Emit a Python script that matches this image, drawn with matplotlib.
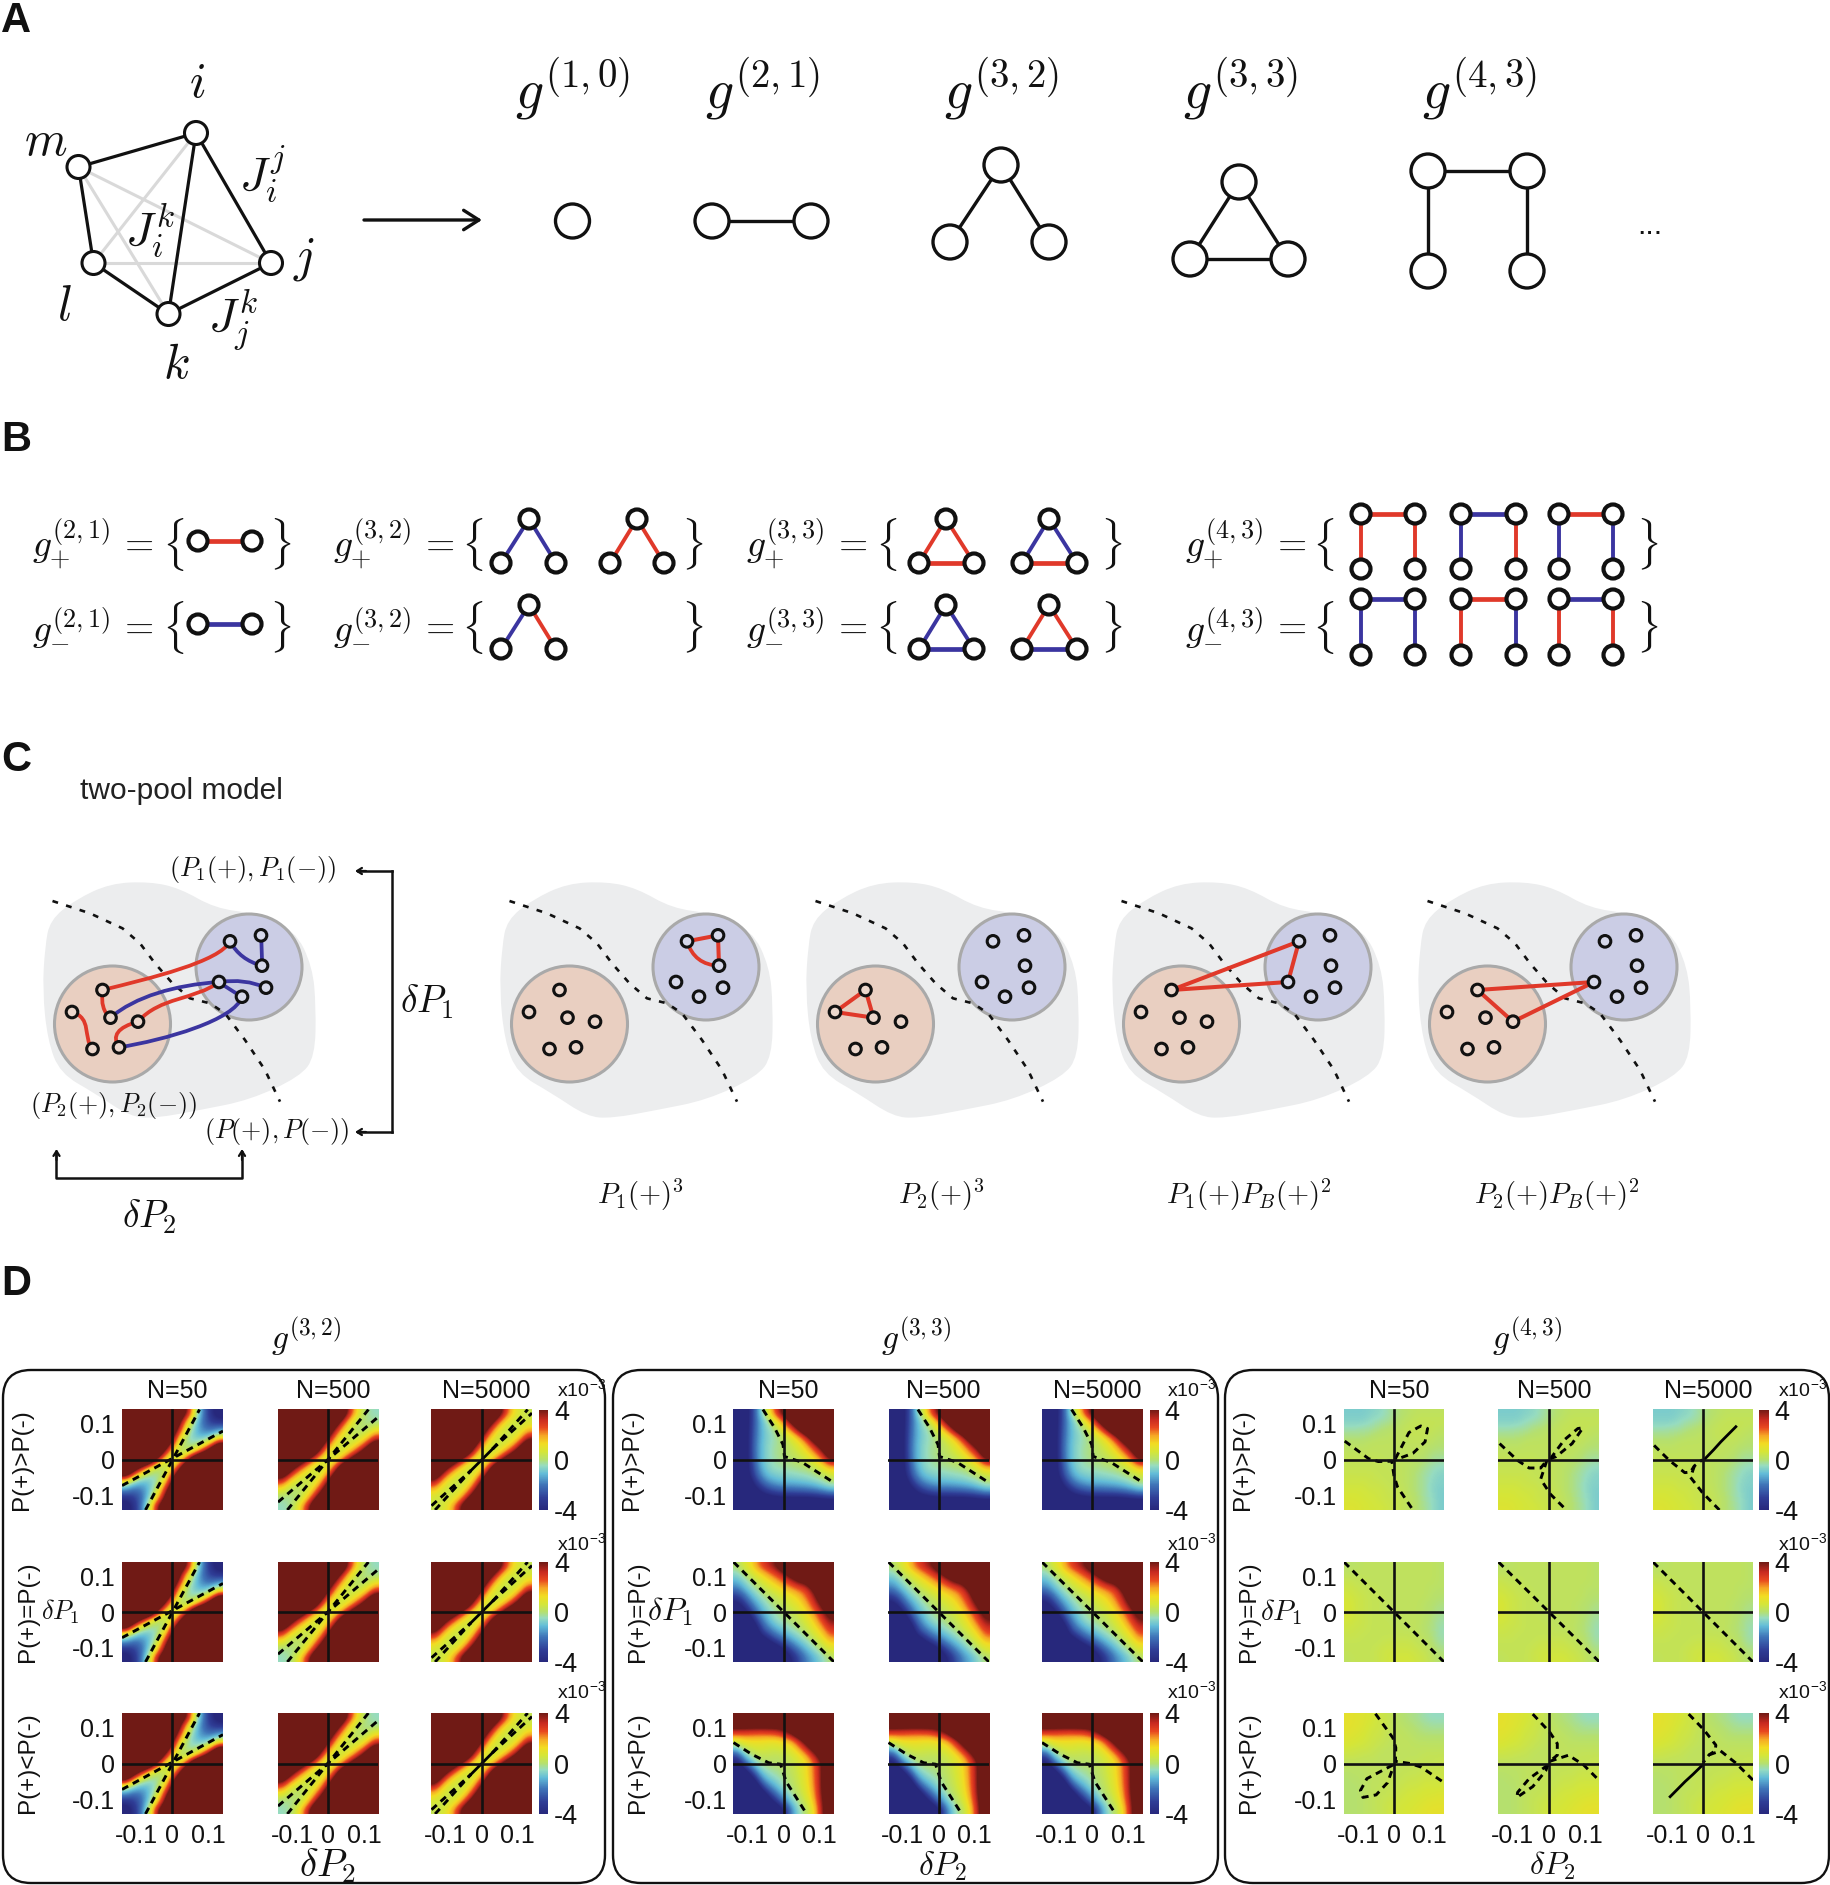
import matplotlib
matplotlib.use("Agg")
import matplotlib.pyplot as plt
from matplotlib.colors import LinearSegmentedColormap
from matplotlib.patches import Circle, Ellipse, FancyBboxPatch, PathPatch
from matplotlib.path import Path

plt.rcParams['font.family'] = ['Liberation Sans', 'DejaVu Sans']
plt.rcParams['mathtext.fontset'] = 'cm'

W, H = 1831, 1885
RED = '#e0392a'
BLUE = '#3b35a0'
BLACK = '#111111'

# ---------- field grids (rows: dP1 = +top to -bottom, cols: dP2 = -left to +right, x10^-3) ----------
g32_n50 = [
 [9,9,9,9,9,9,9,6,3.5,0.4,-2,-3.6,-4.8],
 [9,9,9,9,9,9,8,4,1.5,-0.6,-2.2,-3.2,-3.6],
 [9,9,9,9,9,9,6,3,0.4,-1,-2,-2.3,-1.8],
 [9,9,9,9,9,8,4.5,1.5,-0.3,-1,-1.2,-0.6,0.5],
 [9,9,9,9,9,6,3,0.3,-0.4,-0.3,0.5,2,4.5],
 [9,9,9,9,7,3.5,1,0,0.3,1.5,3.5,6,9],
 [9,9,9,7,3.5,1,0.4,1,3.5,7,9,9,9],
 [9,6,3.5,1.5,0.3,0,1,3.5,7,9,9,9,9],
 [4.5,2,0.5,-0.3,-0.4,0.3,3,6,9,9,9,9,9],
 [0.5,-0.6,-1.2,-1,-0.3,1.5,4.5,8,9,9,9,9,9],
 [-1.8,-2.3,-2,-1,0.4,3,6,9,9,9,9,9,9],
 [-3.6,-3.2,-2.2,-0.6,1.5,4,8,9,9,9,9,9,9],
 [-4.8,-3.6,-2,0.4,3.5,6,9,9,9,9,9,9,9],
]
g32_n500 = [
 [9,9,9,9,9,9,9,9,5,2.6,0.8,-0.3,-0.5],
 [9,9,9,9,9,9,9,5.5,3,1.1,0,-0.2,-0.3],
 [9,9,9,9,9,9,6,3.5,1.5,0.3,0,0,0.8],
 [9,9,9,9,9,7,4.4,1.9,0.6,0.2,0.3,1.1,2.6],
 [9,9,9,9,8,5.2,2.5,0.8,0.3,0.6,1.5,3,5],
 [9,9,9,8,6,3,1,0.3,0.8,1.9,3.5,5.5,9],
 [9,9,6.5,4.6,2.5,1,0.4,1,2.5,4.6,6.5,9,9],
 [9,5.5,3.5,1.9,0.8,0.3,1,3,6,8,9,9,9],
 [5,3,1.5,0.6,0.3,0.8,2.5,5.2,8,9,9,9,9],
 [2.6,1.1,0.3,0.2,0.6,1.9,4.4,7,9,9,9,9,9],
 [0.8,0,0,0.3,1.5,3.5,6,9,9,9,9,9,9],
 [-0.3,-0.2,0,1.1,3,5.5,9,9,9,9,9,9,9],
 [-0.5,-0.3,0.8,2.6,5,9,9,9,9,9,9,9,9],
]
g32_n5000 = [
 [9,9,9,9,9,9,9,9,5.5,3.2,1.4,0.6,0.3],
 [9,9,9,9,9,9,9,5.5,3.2,1.4,0.6,0.3,0.6],
 [9,9,9,9,9,9,6,3.5,1.5,0.5,0.3,0.6,1.4],
 [9,9,9,9,9,7,4.4,1.9,0.6,0.3,0.5,1.4,3.2],
 [9,9,9,9,8,5.2,2.5,0.8,0.3,0.6,1.5,3.2,5.5],
 [9,9,9,8,6,3,1,0.3,0.8,1.9,3.5,5.5,9],
 [9,9,6.5,4.6,2.5,1,0.4,1,2.5,4.6,6.5,9,9],
 [9,5.5,3.5,1.9,0.8,0.3,1,3,6,8,9,9,9],
 [5.5,3.2,1.5,0.6,0.3,0.8,2.5,5.2,8,9,9,9,9],
 [3.2,1.4,0.5,0.3,0.6,1.9,4.4,7,9,9,9,9,9],
 [1.4,0.6,0.3,0.5,1.5,3.5,6,9,9,9,9,9,9],
 [0.6,0.3,0.6,1.4,3.2,5.5,9,9,9,9,9,9,9],
 [0.3,0.6,1.4,3.2,5.5,9,9,9,9,9,9,9,9],
]
g33_pos = [
 [-7,-5,-3,-0.9,0.8,2.8,4.5,7,9,9,9,9,9],
 [-7,-5,-2.9,-1.3,-0.3,1,2.5,4.5,7,9,9,9,9],
 [-7,-5,-2.8,-1.3,-0.6,0,1.2,2.5,4.5,7,9,9,9],
 [-7,-5,-2.7,-1.3,-0.7,-0.3,0.2,1,2,3.5,6,9,9],
 [-7,-5,-2.6,-1.2,-0.6,-0.3,0,0.4,1,2,3.5,5.5,8],
 [-7,-5,-2.6,-1.2,-0.6,-0.2,0,0.2,0.6,1.2,2.2,3.5,6],
 [-7,-5,-2.7,-1.2,-0.6,-0.3,-0.1,0,0.2,0.5,1.2,2.2,4],
 [-7,-5,-2.9,-1.4,-0.7,-0.4,-0.3,-0.2,-0.1,0,0.3,1,1.8],
 [-7,-5.3,-3.2,-1.8,-1,-0.8,-0.7,-0.6,-0.5,-0.4,-0.2,0.1,0.5],
 [-8,-6,-4,-2.6,-1.8,-1.4,-1.2,-1.2,-1.1,-1,-0.8,-0.5,-0.1],
 [-9,-7,-5,-3.8,-3,-2.6,-2.4,-2.4,-2.3,-2.2,-2,-1.7,-1.3],
 [-9,-8,-6.5,-5.2,-4.6,-4.3,-4.1,-4.1,-4.1,-4.1,-4,-3.8,-3.6],
 [-9,-9,-9,-9,-8,-7,-6.5,-6.5,-6.5,-6.5,-6.5,-6,-6],
]
g33_eq = [
 [0,0.7,1.4,2.5,3.3,4,5.5,8,9,9,9,9,9],
 [-0.6,0,0.7,1.3,2,2.8,3.6,5,6,8,9,9,9],
 [-1.2,-0.6,0,0.6,1.1,1.7,2.4,3.2,4.2,4.5,7,9,9],
 [-2,-1.2,-0.5,0,0.5,0.9,1.4,1.9,2.4,3,4.4,7,9],
 [-3.2,-2.2,-1.1,-0.5,0,0.3,0.7,1.1,1.5,2.4,3.6,5.5,8],
 [-4.5,-3.2,-1.9,-1,-0.4,0,0.3,0.7,1.1,1.8,3,4.4,6],
 [-6,-4.5,-2.8,-1.5,-0.8,-0.3,0,0.3,0.7,1.3,2.2,3.5,5],
 [-8,-6.5,-4,-2.2,-1.2,-0.5,-0.2,0,0.3,0.8,1.6,2.8,4],
 [-9,-7.5,-5.5,-3,-1.8,-1.2,-0.7,-0.3,0,0.5,1.1,2,3.2],
 [-9,-9,-7,-3.8,-3,-2,-1.5,-0.9,-0.5,0,0.6,1.3,2.4],
 [-9,-9,-9,-6.5,-4.5,-3.5,-2.6,-1.8,-1.1,-0.6,0,0.7,1.4],
 [-9,-9,-9,-9,-7,-5.5,-4.2,-3,-2,-1.2,-0.6,0,0.7],
 [-9,-9,-9,-9,-9,-7.5,-5.5,-4,-2.8,-1.8,-1.2,-0.6,0],
]
g33_neg = [
 [7,7,7,7,7,7,7,7,7,8,9,9,9],
 [5,5,5,5,5,5,5,5,5.3,6,7,8,9],
 [3,2.9,2.8,2.7,2.8,2.9,3.6,4.5,6,8,9,9,9],
 [0.9,1.3,1.3,1.3,1.2,1.2,1.4,2,3.3,5,7,9,9],
 [-0.8,0.3,0.6,0.7,0.6,0.6,0.7,1,2,3.4,5,6.5,8],
 [-2.8,-1,0,0.3,0.3,0.2,0.3,0.5,1,1.9,3.4,5,7],
 [-4.5,-2.5,-1.2,-0.2,0,0,0.1,0.3,0.7,1.2,2.4,4.1,6.5],
 [-7,-4.5,-2.5,-1,-0.4,-0.2,0,0.2,0.6,1.2,2.4,4.1,6.5],
 [-9,-7,-4.5,-2,-1,-0.6,-0.2,0.1,0.5,1.1,2.3,4.1,6.5],
 [-9,-9,-7,-3.5,-2,-1.2,-0.5,0,0.4,1,2.2,4.1,6.5],
 [-9,-9,-9,-6,-3.5,-2.2,-1.2,-0.3,0.2,0.8,2,4,6.5],
 [-9,-9,-9,-9,-5.5,-3.5,-2.2,-1,-0.1,0.5,1.7,3.8,6],
 [-9,-9,-9,-9,-8,-6,-4,-1.8,-0.5,0.1,1.3,3.6,6],
]
g43_pos = [
 [-0.8,-0.8,-0.8,-0.7,-0.6,-0.4,-0.2,0,0.1,0.2,0.2,0.2,0.2],
 [-0.7,-0.7,-0.7,-0.5,-0.4,-0.3,-0.1,0.1,0.2,0.3,0.3,0.3,0.3],
 [-0.4,-0.4,-0.3,-0.3,-0.1,0,0.1,0.2,0.3,0.3,0.3,0.3,0.2],
 [-0.1,-0.1,-0.1,0,0.1,0.1,0.2,0.2,0.3,0.3,0.3,0.2,0.1],
 [0.1,0.1,0.1,0.2,0.2,0.2,0.2,0.2,0.2,0.2,0.2,0.1,0],
 [0.2,0.2,0.2,0.2,0.2,0.2,0.2,0.2,0.2,0.2,0.1,-0.1,-0.1],
 [0.3,0.3,0.3,0.3,0.3,0.2,0.2,0.2,0.2,0.1,0,-0.2,-0.3],
 [0.3,0.3,0.3,0.3,0.3,0.3,0.2,0.2,0.1,0,-0.2,-0.4,-0.5],
 [0.4,0.4,0.4,0.4,0.3,0.3,0.3,0.2,0.1,-0.1,-0.3,-0.5,-0.7],
 [0.5,0.5,0.5,0.4,0.4,0.3,0.3,0.2,0.1,-0.1,-0.3,-0.6,-0.7],
 [0.6,0.6,0.6,0.5,0.5,0.4,0.3,0.3,0.1,-0.1,-0.3,-0.6,-0.8],
 [0.7,0.7,0.6,0.6,0.5,0.4,0.4,0.3,0.2,0,-0.3,-0.5,-0.8],
 [0.8,0.8,0.7,0.6,0.6,0.5,0.4,0.3,0.2,0,-0.2,-0.5,-0.8],
]
g43_eq = [
 [0.1,0.1,0.2,0.2,0.2,0.2,0.2,0.2,0.2,0.2,0.2,0.2,0.1],
 [0.2,0.2,0.2,0.2,0.2,0.2,0.2,0.2,0.2,0.2,0.2,0.2,0.1],
 [0.4,0.3,0.3,0.2,0.2,0.2,0.2,0.2,0.2,0.2,0.2,0.2,0.1],
 [0.5,0.4,0.3,0.3,0.2,0.2,0.2,0.2,0.2,0.2,0.2,0.1,0.1],
 [0.6,0.5,0.4,0.3,0.3,0.2,0.2,0.2,0.2,0.2,0.2,0.1,0],
 [0.7,0.5,0.4,0.3,0.3,0.2,0.2,0.2,0.2,0.2,0.1,0,-0.1],
 [0.7,0.5,0.4,0.3,0.3,0.2,0.2,0.2,0.2,0.2,0.1,0,-0.2],
 [0.6,0.5,0.4,0.3,0.3,0.3,0.2,0.2,0.2,0.2,0.1,-0.1,-0.3],
 [0.5,0.4,0.4,0.3,0.3,0.3,0.3,0.2,0.2,0.2,0,-0.1,-0.4],
 [0.4,0.4,0.3,0.3,0.3,0.3,0.3,0.3,0.3,0.2,0.1,-0.1,-0.4],
 [0.3,0.3,0.3,0.3,0.3,0.4,0.4,0.4,0.4,0.3,0.2,0,-0.3],
 [0.3,0.3,0.3,0.3,0.4,0.5,0.5,0.5,0.5,0.4,0.3,0.1,-0.1],
 [0.2,0.3,0.3,0.3,0.4,0.5,0.6,0.6,0.6,0.5,0.4,0.2,0],
]
g43_neg = [
 [1,0.9,0.8,0.7,0.5,0.4,0.2,0,-0.1,-0.2,-0.4,-0.5,-0.5],
 [1,0.9,0.8,0.6,0.5,0.4,0.2,0.1,0,-0.1,-0.2,-0.3,-0.3],
 [0.9,0.8,0.7,0.5,0.5,0.3,0.2,0.2,0.1,0,-0.1,-0.1,-0.1],
 [0.8,0.7,0.6,0.5,0.4,0.3,0.2,0.2,0.2,0.1,0.1,0.1,0.1],
 [0.6,0.5,0.5,0.4,0.3,0.2,0.2,0.2,0.2,0.2,0.2,0.2,0.2],
 [0.4,0.4,0.3,0.3,0.2,0.2,0.2,0.2,0.2,0.2,0.3,0.3,0.3],
 [0.2,0.2,0.2,0.2,0.2,0.2,0.2,0.2,0.3,0.3,0.3,0.3,0.4],
 [0.1,0.1,0.1,0.2,0.2,0.2,0.2,0.3,0.3,0.3,0.4,0.4,0.4],
 [0,0.1,0.1,0.2,0.2,0.3,0.3,0.3,0.4,0.4,0.5,0.5,0.5],
 [0,0,0.1,0.2,0.2,0.3,0.3,0.4,0.5,0.5,0.6,0.6,0.6],
 [0,0,0.1,0.2,0.3,0.3,0.4,0.5,0.6,0.6,0.7,0.7,0.8],
 [0,0,0.1,0.2,0.3,0.4,0.5,0.6,0.6,0.7,0.8,0.9,0.9],
 [0,0,0.1,0.2,0.3,0.4,0.6,0.6,0.7,0.8,0.9,1,1],
]

# zero contours per panel: list of (dP2, dP1) polylines
c32_n50 = [[(-0.14,-0.072),(0.14,0.08)], [(-0.075,-0.14),(0.075,0.14)]]
c32_n500 = [[(-0.14,-0.118),(0.14,0.12)], [(-0.114,-0.14),(0.112,0.14)]]
c32_n5000 = [[(-0.14,-0.128),(-0.03,-0.03)], [(-0.13,-0.14),(-0.03,-0.03)], [(0.03,0.03),(0.14,0.13)], [(0.03,0.03),(0.128,0.14)]]
c32_center = [(-0.03,-0.03),(0.03,0.03)]
c33_pos = [[(-0.058,0.14),(-0.026,0.09),(-0.002,0.042),(0.002,0.009),(0.051,-0.007),(0.14,-0.064)]]
c33_eq = [[(-0.14,0.14),(0.14,-0.14)]]
c33_neg = [[(-0.14,0.058),(-0.09,0.026),(-0.042,0.002),(-0.009,-0.002),(0.007,-0.051),(0.064,-0.14)]]
c43_pos_50 = [[(-0.138,0.052),(-0.071,0.003),(-0.044,-0.005),(-0.006,-0.004),(0,-0.045),(0.01,-0.076),(0.053,-0.14)],
              [(0.004,0.003),(0.042,0.076),(0.075,0.094),(0.094,0.087),(0.087,0.05),(0.053,0.018),(0.004,0)]]
c43_pos_500 = [[(-0.137,0.045),(-0.087,-0.002),(-0.055,-0.023),(-0.023,-0.023),(-0.006,-0.002)],
               [(-0.006,-0.002),(-0.023,-0.054),(0.004,-0.096),(0.048,-0.14)],
               [(0.004,0.003),(0.042,0.055),(0.08,0.087),(0.094,0.089),(0.064,0.045),(0.02,0.009),(0.004,0.003)]]
c43_pos_5000 = [[(-0.137,0.04),(-0.094,-0.002),(-0.051,-0.036),(-0.035,-0.034),(-0.024,-0.017),(-0.002,0)],
                [(-0.024,-0.017),(-0.035,-0.049),(-0.002,-0.091),(0.046,-0.14)]]
c43_solid_pos = [(0.003,0),(0.03,0.028),(0.05,0.05),(0.07,0.07),(0.092,0.092)]
c43_neg_50 = [[(-0.052,0.138),(-0.003,0.071),(0.005,0.044),(0.004,0.006),(0.045,0),(0.076,-0.01),(0.14,-0.053)],
              [(-0.003,-0.004),(-0.076,-0.042),(-0.094,-0.075),(-0.087,-0.094),(-0.05,-0.087),(-0.018,-0.053),(0,-0.004)]]
c43_neg_500 = [[(-0.045,0.137),(0.002,0.087),(0.023,0.055),(0.023,0.023),(0.002,0.006)],
               [(0.002,0.006),(0.054,0.023),(0.096,-0.004),(0.14,-0.048)],
               [(-0.003,-0.004),(-0.055,-0.042),(-0.087,-0.08),(-0.089,-0.094),(-0.045,-0.064),(-0.009,-0.02),(-0.003,-0.004)]]
c43_neg_5000 = [[(-0.04,0.137),(0.002,0.094),(0.036,0.051),(0.034,0.035),(0.017,0.024),(0,0.002)],
                [(0.017,0.024),(0.049,0.035),(0.091,0.002),(0.14,-0.046)]]
c43_solid_neg = [(0,-0.003),(-0.028,-0.03),(-0.05,-0.05),(-0.07,-0.07),(-0.092,-0.092)]
c43_eq = [[(-0.14,0.14),(0.14,-0.14)]]

field_rows = ['P(+)>P(-)', 'P(+)=P(-)', 'P(+)<P(-)']
n_labels = ['N=50', 'N=500', 'N=5000']
ticks = [-0.1, 0, 0.1]
tick_text = ['-0.1', '0', '0.1']

groups = [
    dict(title='$g^{(3,2)}$', title_x=306, frame=(3, 605),
         cols=[(122,223),(278,378.5),(431.5,532)], cbar=(539,548.5), xlab=327, xfs=28, yfs=19,
         fields=[[g32_n50,g32_n500,g32_n5000]]*3,
         lines=[[c32_n50,c32_n500,c32_n5000]]*3,
         solid=[[None,None,c32_center]]*3, shift=0),
    dict(title='$g^{(3,3)}$', title_x=916, frame=(613, 1218),
         cols=[(733.5,834),(888.5,989),(1042,1143)], cbar=(1150,1159), xlab=942, xfs=24, yfs=23,
         fields=[[g33_pos]*3,[g33_eq]*3,[g33_neg]*3],
         lines=[[c33_pos]*3,[c33_eq]*3,[c33_neg]*3],
         solid=[[None]*3]*3, shift=610),
    dict(title='$g^{(4,3)}$', title_x=1527, frame=(1225, 1829),
         cols=[(1344,1444),(1498.5,1599.5),(1653,1753)], cbar=(1759.5,1769), xlab=1552, xfs=23, yfs=21,
         fields=[[g43_pos]*3,[g43_eq]*3,[g43_neg]*3],
         lines=[[c43_pos_50,c43_pos_500,c43_pos_5000],[c43_eq]*3,[c43_neg_50,c43_neg_500,c43_neg_5000]],
         solid=[[None,None,c43_solid_pos],[None]*3,[None,None,c43_solid_neg]], shift=1221),
]
row_y = [(1409.5,1510),(1562,1662),(1713,1814)]
row_lab = [(22,1460),(28,1612),(28,1763)]
x10_y = [1390,1544,1692]

cmap = LinearSegmentedColormap.from_list('jetlike', [
    (0.00,'#27287c'),(0.12,'#2f3d96'),(0.25,'#3f74b8'),(0.36,'#62bcd8'),(0.44,'#97dcc0'),
    (0.50,'#b5e070'),(0.58,'#d5e638'),(0.66,'#f2dc22'),(0.74,'#f6a825'),(0.82,'#e8481f'),
    (0.90,'#c92a20'),(1.00,'#701a15')])

# ---------- panel A ----------
A_nodes = dict(i=(196,133), m=(78.5,167), l=(93.5,263), j=(271,263), k=(168.5,314))
A_black = [('m','i'),('i','j'),('j','k'),('k','l'),('l','m'),('i','k')]
A_gray = [('m','j'),('m','k'),('i','l'),('l','j')]
A_letters = [('m',46,142),('i',197,84),('l',64,307),('j',304,259),('k',176,365)]
A_couplings = [('J_i^j',262,175),('J_i^k',150,231),('J_j^k',233,321)]
A_graphs = [
    ('$g^{(1,0)}$',572,89,[(572.5,221)],[]),
    ('$g^{(2,1)}$',762,89,[(712,221),(811,221)],[(0,1)]),
    ('$g^{(3,2)}$',1001,89,[(1001,165),(950,242),(1049,242)],[(0,1),(0,2)]),
    ('$g^{(3,3)}$',1240,89,[(1239,182),(1190,259),(1288,259)],[(0,1),(0,2),(1,2)]),
    ('$g^{(4,3)}$',1479,89,[(1428,171),(1527,171),(1428,271),(1527,271)],[(0,1),(0,2),(1,3)]),
]

# ---------- panel B ----------
B_rows = [544,627]
B_labels = [
    ('(2,1)',32,136,173,280.5),('(3,2)',333,437,472,692.5),
    ('(3,3)',746,850,886,1111),('(4,3)',1185,1289,1323,1647)]
tri_x = [(529,501,556),(637,610,664)]
tri3_x = [(946,919,974),(1049,1022,1077)]
sq_x = [(1361,1415),(1461,1516),(1559,1613)]
B_g32 = [[('b','b'),('r','r')],[('b','r')]]
B_g33 = [[('r','r','r'),('b','b','r')],[('b','b','b'),('r','r','b')]]
B_g43 = [[('r','r','r'),('b','b','r'),('r','b','b')],[('b','b','b'),('r','r','b'),('b','r','r')]]

# ---------- panel C (coordinates of the drawing, before scaling) ----------
blob_x = [90,100,150,220,300,360,430,510,590,625,632,630,600,500,400,310,260,190,120,95,85]
blob_y = [620,540,480,430,425,445,505,520,570,680,800,950,1010,1080,1110,1135,1130,1060,1000,900,750]
bound_x = [105,180,245,280,310,345,380,420,450,490,530,560]
bound_y = [483,520,565,610,670,730,775,790,820,900,990,1085]
left_nodes = [(205,750),(144,816),(221,833),(276,845),(185,927),(238,922)]
right_nodes = [(460,604),(522,586),(524,677),(438,726),(484,770),(532,743)]
C_curves = [
    (RED,[(205,750),(300,715),(440,665),(460,604)]),
    (BLUE,[(460,604),(480,660),(524,677)]),
    (BLUE,[(522,586),(524,630),(524,677)]),
    (RED,[(205,750),(200,810),(221,833)]),
    (RED,[(144,816),(185,835),(165,890),(185,927)]),
    (BLUE,[(221,833),(270,770),(350,735),(438,726)]),
    (RED,[(276,845),(320,770),(390,780),(438,726)]),
    (RED,[(276,845),(215,870),(238,922)]),
    (BLUE,[(238,922),(330,900),(470,840),(484,770)]),
    (BLUE,[(438,726),(490,715),(532,743)]),
    (BLUE,[(438,726),(460,750),(484,770)]),
]
C_offsets = [0,457,763,1069,1375]
C_bend = (475,675)
C_tris = {1:[((1,0),(1,1),False),((1,1),(1,2),False),((1,2),(1,0),True)],
          2:[((0,0),(0,1),False),((0,0),(0,2),False),((0,1),(0,2),False)],
          3:[((0,0),(1,0),False),((1,0),(1,3),False),((1,3),(0,0),False)],
          4:[((0,0),(1,3),False),((1,3),(0,3),False),((0,3),(0,0),False)]}
C_captions = [('$P_1(+)^3$',640),('$P_2(+)^3$',941),('$P_1(+)P_B(+)^2$',1249),('$P_2(+)P_B(+)^2$',1557)]

fig = plt.figure(figsize=(W/100, H/100), dpi=100, facecolor='white')
ax = fig.add_axes([0,0,1,1])
ax.set_xlim(0,W); ax.set_ylim(H,0); ax.axis('off')

def T(x,y,s,fs,**k):
    k.setdefault('ha','center'); k.setdefault('va','center'); k.setdefault('color',BLACK)
    return ax.text(x,y,s,fontsize=fs,**k)
def node(x,y,r,lw,z=5,fc='white'):
    ax.add_patch(Circle((x,y),r,fc=fc,ec=BLACK,lw=lw,zorder=z))
def seg(a,b,c,lw,z=3):
    ax.plot([a[0],b[0]],[a[1],b[1]],color=c,lw=lw,zorder=z,solid_capstyle='butt')

for lab,x,y in [('A',16,21),('B',16,440),('C',16,760),('D',16,1284)]:
    T(x,y,lab,30,fontweight='bold',color='#111111')

# A
for a,b in A_gray: seg(A_nodes[a],A_nodes[b],'#d9d9d9',2.2,2)
for a,b in A_black: seg(A_nodes[a],A_nodes[b],BLACK,2.3,3)
for p in A_nodes.values(): node(p[0],p[1],11.5,2.2)
for s,x,y in A_letters: T(x,y,'$%s$'%s,35)
for s,x,y in A_couplings: T(x,y,'$%s$'%s,34)
ax.annotate('',xy=(482,220),xytext=(364,220),arrowprops=dict(arrowstyle='->,head_width=0.7,head_length=1.1',lw=2.4,color=BLACK,shrinkA=0,shrinkB=0))
for s,x,y,nd,ed in A_graphs:
    T(x,y,s,40)
    for i,j in ed: seg(nd[i],nd[j],BLACK,2.4)
    for p in nd: node(p[0],p[1],17,2.4)
T(1650,226,'...',22)

# B
for (sup,xl,xe,xb,xc) in B_labels:
    for y,sg in zip(B_rows,'+-'):
        T(xl,y,'$g_{%s}^{%s}$'%(sg,sup),27,ha='left')
        T(xe,y,'$=$',27)
        T(xb,y,'$\\{$',31)
        T(xc,y,'$\\}$',31)
colr = {'r':RED,'b':BLUE}
R_N, L_N = 9.5, 3.0
for y,c in [(541,'r'),(624,'b')]:
    seg((198,y),(252,y),colr[c],3.4)
    node(198,y,R_N,L_N); node(252,y,R_N,L_N)
for row,(dy,dz) in enumerate([(519,563),(605,649)]):
    for k,cs in enumerate(B_g32[row]):
        t,l,r = tri_x[k]
        seg((t,dy),(l,dz),colr[cs[0]],2.8); seg((t,dy),(r,dz),colr[cs[1]],2.8)
        node(t,dy,R_N,L_N); node(l,dz,R_N,L_N); node(r,dz,R_N,L_N)
    for k,cs in enumerate(B_g33[row]):
        t,l,r = tri3_x[k]
        seg((t,dy),(l,dz),colr[cs[0]],2.8); seg((t,dy),(r,dz),colr[cs[1]],2.8)
        seg((l,dz),(r,dz),colr[cs[2]],3.4)
        node(t,dy,R_N,L_N); node(l,dz,R_N,L_N); node(r,dz,R_N,L_N)
for row,(dy,dz) in enumerate([(514,569),(599,655)]):
    for k,cs in enumerate(B_g43[row]):
        l,r = sq_x[k]
        seg((l,dy),(r,dy),colr[cs[0]],3.4)
        seg((l,dy),(l,dz),colr[cs[1]],2.8); seg((r,dy),(r,dz),colr[cs[2]],2.8)
        for px,py in [(l,dy),(r,dy),(l,dz),(r,dz)]: node(px,py,R_N,L_N)

# C
def cx(x): return x/2
def cy(y): return 740+y/3
def smooth_path(pts):
    if len(pts)==3:
        return Path(pts,[Path.MOVETO,Path.CURVE3,Path.CURVE3])
    return Path(pts,[Path.MOVETO,Path.CURVE4,Path.CURVE4,Path.CURVE4])

T(181,791,'two-pool model',21.5,color='#222222')
for idx,off in enumerate(C_offsets):
    bx=[cx(v)+off for v in blob_x]; by=[cy(v) for v in blob_y]
    n=len(bx)
    codes=[Path.MOVETO]; verts=[((bx[-1]+bx[0])/2,(by[-1]+by[0])/2)]
    for i in range(n):
        verts.append((bx[i],by[i])); verts.append(((bx[i]+bx[(i+1)%n])/2,(by[i]+by[(i+1)%n])/2))
        codes += [Path.CURVE3,Path.CURVE3]
    ax.add_patch(PathPatch(Path(verts,codes),fc='#ecedee',ec='none',zorder=1))
    ax.add_patch(Ellipse((112.5+off,1024),116,116,fc='#e9cfc1',ec='#a9a9a9',lw=2.2,zorder=2))
    ax.add_patch(Ellipse((249+off,967),106,106,fc='#cbcde5',ec='#a9a9a9',lw=2.2,zorder=2))
    ax.plot([cx(v)+off for v in bound_x],[cy(v) for v in bound_y],color=BLACK,lw=1.9,ls=(0,(2.2,3.2)),zorder=2.5)
    nodes=[[(cx(a)+off,cy(b)) for a,b in left_nodes],[(cx(a)+off,cy(b)) for a,b in right_nodes]]
    if idx==0:
        for c,pts in C_curves:
            pts2=[(cx(a)+off,cy(b)) for a,b in pts]
            ax.add_patch(PathPatch(smooth_path(pts2),fc='none',ec=c,lw=2.7,zorder=3))
    else:
        for a,b,curved in C_tris[idx]:
            A=nodes[a[0]][a[1]]; B=nodes[b[0]][b[1]]
            if curved:
                ctrl=(cx(C_bend[0])+off,cy(C_bend[1]))
                ax.add_patch(PathPatch(Path([A,ctrl,B],[Path.MOVETO,Path.CURVE3,Path.CURVE3]),fc='none',ec=RED,lw=2.7,zorder=3))
            else:
                seg(A,B,RED,2.9)
    for grp,fc in zip(nodes,['#ecd7cc','#d6d8ea']):
        for p in grp: node(p[0],p[1],5.8,2.2,fc=fc)

T(252,869,'$(P_1(+),P_1(-))$',18.7)
T(113,1105,'$(P_2(+),P_2(-))$',18.7)
T(277,1131,'$(P(+),P(-))$',18.7)
T(427,1002,'$\\delta P_1$',27)
T(149,1217,'$\\delta P_2$',27)
ax.plot([392.5,392.5],[871,1132],color=BLACK,lw=1.8,zorder=3)
ax.plot([358,392.5],[871,871],color=BLACK,lw=1.8,zorder=3)
ax.plot([358,392.5],[1132,1132],color=BLACK,lw=1.8,zorder=3)
ax.plot([56.5,56.5,242,242],[1152,1178,1178,1152],color=BLACK,lw=1.8,zorder=3)
for tip,tail in [((355,871),(366,871)),((355,1132),(366,1132)),((56.5,1149),(56.5,1160)),((242,1149),(242,1160))]:
    ax.annotate('',xy=tip,xytext=tail,arrowprops=dict(arrowstyle='->,head_width=0.22,head_length=0.35',lw=1.6,color=BLACK,shrinkA=0,shrinkB=0))
for s,x in C_captions: T(x,1195,s,20.5)

# D
def to_axes(x0,x1,y0,y1):
    return [x0/W, 1-y1/H, (x1-x0)/W, (y1-y0)/H]
for g in groups:
    f0,f1 = g['frame']
    ax.add_patch(FancyBboxPatch((f0+28,1370+28),f1-f0-56,1883-1370-56,boxstyle='round,pad=28,rounding_size=28',fc='none',ec=BLACK,lw=1.7,zorder=1))
    T(g['title_x'],1337,g['title'],24)
    T(g['xlab'],1866,'$\\delta P_2$',g['xfs'])
    T(60+g['shift'],1612,'$\\delta P_1$',g['yfs'])
    for c,(x0,x1) in enumerate(g['cols']):
        T((x0+x1)/2+5,1391,n_labels[c],18)
    for r,(y0,y1) in enumerate(row_y):
        T(row_lab[r][0]+g['shift'],row_lab[r][1],field_rows[r],17.5,rotation=90)
        im=None
        for c,(x0,x1) in enumerate(g['cols']):
            a=fig.add_axes(to_axes(x0,x1,y0,y1))
            im=a.imshow(g['fields'][r][c],cmap=cmap,vmin=-4,vmax=4,extent=(-0.14,0.14,-0.14,0.14),
                        interpolation='bicubic',interpolation_stage='data',aspect='auto',origin='upper')
            for line in g['lines'][r][c]:
                a.plot([p[0] for p in line],[p[1] for p in line],color='black',lw=2.1,ls=(0,(2.4,1.8)),zorder=3)
            sol=g['solid'][r][c]
            if sol: a.plot([p[0] for p in sol],[p[1] for p in sol],color='black',lw=2.0,zorder=3)
            a.axhline(0,color=BLACK,lw=1.9,zorder=4)
            a.axvline(0,color=BLACK,lw=1.9,zorder=4)
            for s in a.spines.values(): s.set_visible(False)
            a.set_xlim(-0.14,0.14); a.set_ylim(-0.14,0.14)
            a.set_xticks(ticks if r==2 else [])
            a.set_yticks(ticks if c==0 else [])
            if r==2: a.set_xticklabels(tick_text)
            if c==0: a.set_yticklabels(tick_text)
            a.tick_params(length=0,labelsize=18,pad=5,colors=BLACK)
            a.tick_params(axis='x',pad=7)
        cax=fig.add_axes(to_axes(g['cbar'][0],g['cbar'][1],y0,y1))
        cb=fig.colorbar(im,cax=cax,ticks=[-4,0,4])
        cb.outline.set_visible(False)
        cb.ax.set_yticklabels(['-4','0','4'])
        cb.ax.tick_params(length=0,labelsize=19.5,pad=4,colors=BLACK)
        T(582+g['shift'],x10_y[r],'x10$^{\\mathregular{-3}}$',14)

fig.savefig('out.png',dpi=100,facecolor='white')
